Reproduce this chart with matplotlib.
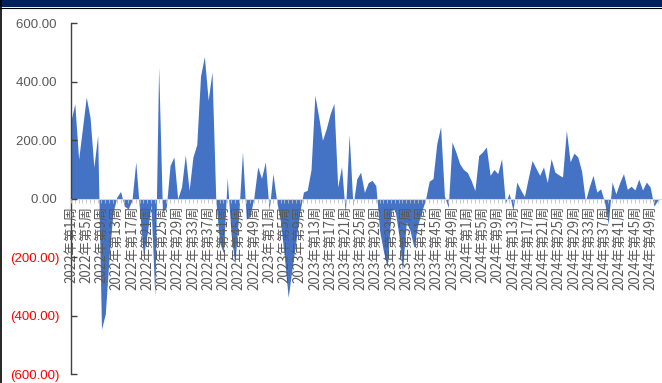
import matplotlib
matplotlib.use("Agg")
import matplotlib.pyplot as plt
from matplotlib.patches import Rectangle
from matplotlib.lines import Line2D
import numpy as np

plt.rcParams['font.family'] = ['Noto Sans CJK SC', 'DejaVu Sans']

# Weekly values, 2022 W1 .. 2024 W52
values = [
    268, 325, 135, 240, 348, 278, 108, 217, -446, -394,
    -200, -50, 5, 25, -25, -35, -5, 126, -40, -195,
    -120, -20, -335, 451, -45, -30, 114, 143, 0, 40,
    150, 29, 143, 185, 420, 486, 337, 434, -5, -150,
    -185, 72, -120, -223, -60, 160, -70, -60, 5, 109,
    70, 126, -40, 86, -10, -80, -200, -337, -240, -150,
    -50, 23, 29, 100, 354, 280, 200, 240, 290, 326,
    40, 110, -51, 220, -25, 68, 91, 22, 55, 63,
    45, -110, -180, -234, -40, -35, -120, -246, -80, -110,
    -166, -90, -45, -5, 60, 69, 189, 246, 10, -30,
    194, 160, 120, 100, 90, 63, 28, 148, 160, 177,
    80, 100, 86, 137, -15, 19, -40, 57, 30, 8,
    70, 131, 105, 80, 109, 55, 137, 91, 82, 74,
    234, 126, 156, 143, 95, -8, 40, 80, 23, 34,
    -10, -86, 57, 17, 55, 86, 32, 43, 30, 67,
    30, 57, 40, -25, -5, 0,
]
years = [2022, 2023, 2024]
weeks_per_year = [52, 52, 52]
categories = [f"{y}年第{w}周" for y, n in zip(years, weeks_per_year) for w in range(1, n + 1)]
y_ticks = [-600, -400, -200, 0, 200, 400, 600]

W, H = 662, 383
fig = plt.figure(figsize=(W / 100, H / 100), dpi=100)
fig.patch.set_facecolor('white')

# header band and left frame line
fig.patches.append(Rectangle((0, 1 - 7 / H), 1, 7 / H, transform=fig.transFigure,
                             facecolor='#002060', edgecolor='none'))
fig.lines.append(Line2D([0, 1], [1 - 7.5 / H, 1 - 7.5 / H], transform=fig.transFigure,
                        color='#000000', lw=0.8))
fig.lines.append(Line2D([0.6 / W, 0.6 / W], [0, 1], transform=fig.transFigure,
                        color='#000000', lw=1.2))

left, right = 71, 661.6
top, bottom = 23.3, 374.2
ax = fig.add_axes([left / W, (H - bottom) / H, (right - left) / W, (bottom - top) / H])

x = np.arange(len(values))
ax.fill_between(x, values, 0, color='#4472C4', linewidth=0, zorder=1)

ax.set_xlim(0, len(values) - 1)
ax.set_ylim(-600, 600)
ax.set_axisbelow(False)

for s in ['top', 'right']:
    ax.spines[s].set_visible(False)
ax.spines['left'].set_color('#404040')
ax.spines['left'].set_linewidth(1.0)
ax.spines['bottom'].set_position(('data', 0))
ax.spines['bottom'].set_color('#D9D9D9')
ax.spines['bottom'].set_linewidth(0.8)

# y axis
ax.set_yticks(y_ticks)
ylabels = []
for v in y_ticks:
    if v < 0:
        ylabels.append(f"({abs(v):.2f})")
    else:
        ylabels.append(f"{v:.2f} ")
ax.set_yticklabels(ylabels, family=['Liberation Sans', 'DejaVu Sans'], fontsize=9.5)
for lbl, v in zip(ax.get_yticklabels(), y_ticks):
    lbl.set_color('#FF0000' if v < 0 else '#595959')
ax.tick_params(axis='y', direction='in', length=4, width=1.0, color='#404040', pad=8)

# x axis: a tick per week, label every fourth week
ax.set_xticks(x)
ax.set_xticklabels([c if i % 4 == 0 else '' for i, c in enumerate(categories)],
                   rotation=90, fontsize=9.6, color='#595959', va='top', ha='center')
ax.tick_params(axis='x', direction='out', length=3, width=0.6, color='#BFBFBF', pad=2)

fig.savefig('out.png', dpi=100)
